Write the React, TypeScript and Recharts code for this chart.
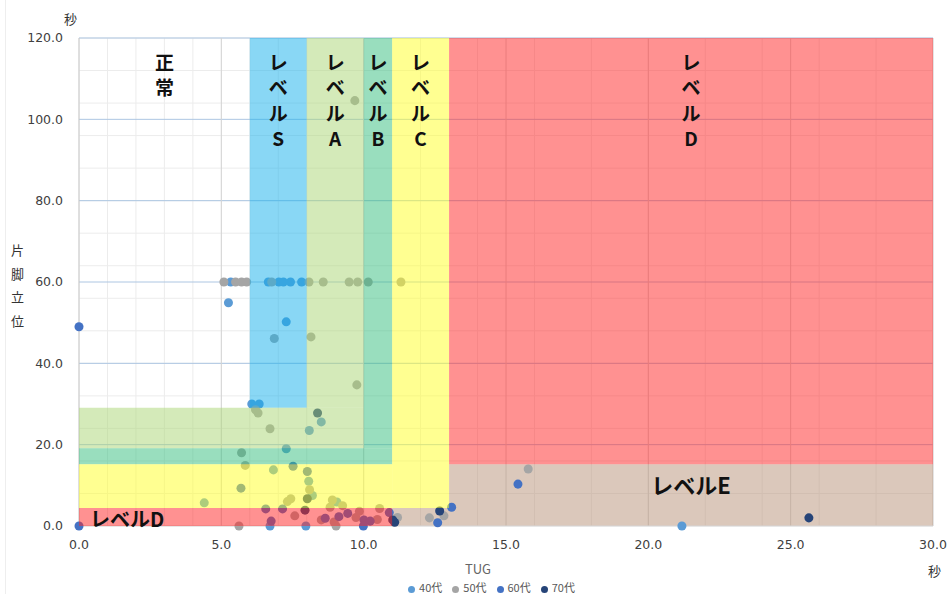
import React from 'react';
import { ScatterChart, Scatter, XAxis, YAxis, ZAxis, CartesianGrid, ReferenceArea, Legend } from 'recharts';

// [TUG (sec), one-leg standing (sec)]
const age40: [number, number][] = [
  [5.33, 60], [6.65, 60], [7.02, 60], [7.18, 60], [7.43, 60], [7.82, 60], [5.25, 54.9], [7.28, 50.2],
  [6.07, 30], [6.33, 30], [7.28, 19.0], [8.09, 23.5], [8.51, 25.6], [6.83, 13.8], [8.07, 11.0],
  [4.4, 5.7], [8.2, 7.5], [9.06, 5.9], [6.71, 0], [7.97, 0], [21.18, 0],
];
const age50: [number, number][] = [
  [5.09, 60], [5.5, 60], [5.71, 60], [5.89, 60], [6.77, 60], [8.08, 60], [8.58, 60], [9.49, 60],
  [9.79, 60], [10.16, 60], [11.31, 60], [9.69, 104.6], [6.86, 46.1], [8.15, 46.5], [9.76, 34.7],
  [6.2, 28.6], [6.29, 27.8], [6.71, 23.9], [5.71, 18.0], [5.84, 14.9], [7.44, 6.7], [7.32, 6.0],
  [8.9, 6.4], [9.26, 5.0], [8.82, 4.6], [8.1, 8.9], [7.58, 2.5], [5.62, 0], [8.51, 1.5], [8.96, 1.0],
  [9.03, 0], [9.73, 2.1], [9.85, 3.6], [10.48, 1.6], [10.56, 4.3], [11.19, 2.1], [12.31, 2.0],
  [12.82, 2.5], [15.78, 14.0],
];
const age60: [number, number][] = [
  [0, 49], [0, 0], [7.52, 14.7], [8.02, 13.4], [5.69, 9.3], [6.56, 4.2], [7.15, 4.2], [6.75, 1.2],
  [8.65, 1.9], [9.13, 2.3], [9.44, 3.1], [10.01, 1.5], [10.23, 1.2], [10.9, 3.3], [12.6, 0.8],
  [13.09, 4.6], [15.42, 10.3], [9.99, 0],
];
const age70: [number, number][] = [
  [7.94, 3.9], [8.02, 6.7], [11.02, 1.5], [11.09, 0.9], [12.67, 3.7], [25.64, 2.0], [8.38, 27.8],
];

const xTicks = [0, 5, 10, 15, 20, 25, 30];
const yTicks = [0, 20, 40, 60, 80, 100, 120];
const xMinor = Array.from({ length: 31 }, (_, i) => i);
const yMinor = Array.from({ length: 31 }, (_, i) => i * 4);

// level boundaries
const tugS = 6, tugA = 8, tugB = 10, tugC = 11, tugD = 13;
const legS = 29.1, legA = 19.1, legB = 15.2, legD = 4.4;

const toPts = (arr: [number, number][]) => arr.map(([x, y]) => ({ x, y }));

const FONT = '"Noto Sans CJK JP", "Noto Sans", sans-serif';

// one character per line, stacked from the top of the zone
const StackLabel = (props: any) => {
  const { viewBox, chars } = props;
  if (!viewBox) return null;
  const cx = viewBox.x + viewBox.width / 2;
  return (
    <g>
      {chars.map((c: string, i: number) => (
        <text key={i} x={cx} y={viewBox.y + 23 + i * 25.5} textAnchor="middle" dominantBaseline="central"
          fontSize={19} fontWeight="bold" fill="#111" fontFamily={FONT}>{c}</text>
      ))}
    </g>
  );
};

const SideLabel = (props: any) => {
  const { viewBox, text, dx = 0, dy = 0, size = 20, center = false } = props;
  if (!viewBox) return null;
  const x = center ? viewBox.x + viewBox.width / 2 : viewBox.x + dx;
  return (
    <text x={x} y={viewBox.y + viewBox.height / 2 + dy} textAnchor={center ? 'middle' : 'start'}
      dominantBaseline="central" fontSize={size} fontWeight="bold" fill="#111" fontFamily={FONT}>
      {text}
    </text>
  );
};

const OV = 650;

export default function App() {
  return (
    <div style={{ position: 'absolute', left: 0, top: 0, width: 949, height: 594, background: '#fff', overflow: 'hidden' }}>
      <div style={{ position: 'absolute', left: 5, top: 0, width: 1, height: 594, background: '#eeeeee' }} />
      <ScatterChart width={949} height={594} margin={{ top: 38, right: 16, bottom: 0, left: 0 }}>
        <CartesianGrid horizontalValues={yMinor} verticalValues={xMinor} stroke="#ececec" />
        <CartesianGrid horizontalValues={[20, 40, 60, 80, 100, 120]} vertical={false} stroke="#adc6e2" />
        <CartesianGrid verticalValues={[5, 10, 15, 20, 25, 30]} horizontal={false} stroke="#d4d4d4" />
        <XAxis type="number" dataKey="x" domain={[0, 30]} ticks={xTicks} height={68} tickLine={false}
          axisLine={{ stroke: '#d9d9d9' }} tickMargin={8} tickFormatter={(v: number) => v.toFixed(1)}
          tick={{ fontSize: 12.5, fill: '#404040', fontFamily: '"DejaVu Sans"' }}
          label={{ value: 'TUG', position: 'insideBottom', offset: 20, dx: -28, fill: '#666', fontSize: 13, fontFamily: FONT }} />
        <YAxis type="number" dataKey="y" domain={[0, 120]} ticks={yTicks} width={79} tickLine={false}
          axisLine={{ stroke: '#c8c8c8' }} tickMargin={10} tickFormatter={(v: number) => v.toFixed(1)}
          tick={{ fontSize: 12.5, fill: '#404040', fontFamily: '"DejaVu Sans"' }} />
        <ZAxis range={[46, 46]} />

        {/* level E sits beneath the points */}
        <ReferenceArea x1={tugD} x2={30} y1={0} y2={legB} fill="#b79177" fillOpacity={0.5} stroke="none"
          label={<SideLabel text="レベルE" center dy={-11} size={22} />} />
        <ReferenceArea x1={tugC} x2={tugD} y1={0} y2={legD} fill="#b79177" fillOpacity={0.5} stroke="none" />

        <Scatter name="40代" data={toPts(age40)} fill="#5b9bd5" isAnimationActive={false} />
        <Scatter name="50代" data={toPts(age50)} fill="#a5a5a5" isAnimationActive={false} />
        <Scatter name="60代" data={toPts(age60)} fill="#4472c4" isAnimationActive={false} />
        <Scatter name="70代" data={toPts(age70)} fill="#264478" isAnimationActive={false} />

        <ReferenceArea x1={0} x2={tugS} y1={legS} y2={120} fill="none" stroke="none" zIndex={OV}
          label={<StackLabel chars={['正', '常']} />} />
        <ReferenceArea x1={tugS} x2={tugA} y1={legS} y2={120} fill="#13afeb" fillOpacity={0.5} stroke="none" zIndex={OV}
          label={<StackLabel chars={['レ', 'ベ', 'ル', 'S']} />} />
        <ReferenceArea x1={tugA} x2={tugB} y1={legS} y2={120} fill="#a9d573" fillOpacity={0.5} stroke="none" zIndex={OV}
          label={<StackLabel chars={['レ', 'ベ', 'ル', 'A']} />} />
        <ReferenceArea x1={0} x2={tugB} y1={legA} y2={legS} fill="#a9d573" fillOpacity={0.5} stroke="none" zIndex={OV} />
        <ReferenceArea x1={tugB} x2={tugC} y1={legA} y2={120} fill="#33bd7d" fillOpacity={0.5} stroke="none" zIndex={OV}
          label={<StackLabel chars={['レ', 'ベ', 'ル', 'B']} />} />
        <ReferenceArea x1={0} x2={tugC} y1={legB} y2={legA} fill="#33bd7d" fillOpacity={0.5} stroke="none" zIndex={OV} />
        <ReferenceArea x1={tugC} x2={tugD} y1={legD} y2={120} fill="#ffff23" fillOpacity={0.5} stroke="none" zIndex={OV}
          label={<StackLabel chars={['レ', 'ベ', 'ル', 'C']} />} />
        <ReferenceArea x1={0} x2={tugC} y1={legD} y2={legB} fill="#ffff23" fillOpacity={0.5} stroke="none" zIndex={OV} />
        <ReferenceArea x1={tugD} x2={30} y1={legB} y2={120} fill="#ff2323" fillOpacity={0.5} stroke="none" zIndex={OV}
          label={<StackLabel chars={['レ', 'ベ', 'ル', 'D']} />} />
        <ReferenceArea x1={0} x2={tugC} y1={0} y2={legD} fill="#ff2323" fillOpacity={0.5} stroke="none" zIndex={OV}
          label={<SideLabel text="レベルD" dx={11} dy={1} />} />

        <Legend layout="horizontal" verticalAlign="middle" align="center" iconType="circle" iconSize={7}
          wrapperStyle={{ top: 580, left: 30, width: 933, fontSize: 11, fontFamily: FONT, color: '#595959', lineHeight: '14px' }}
          formatter={(v: string) => <span style={{ color: '#595959' }}>{v}</span>} />
      </ScatterChart>
      <div style={{ position: 'absolute', left: 64, top: 9, fontSize: 13, fontFamily: FONT, color: '#333' }}>秒</div>
      <div style={{ position: 'absolute', left: 928, top: 561, fontSize: 13, fontFamily: FONT, color: '#333' }}>秒</div>
      <div style={{ position: 'absolute', left: 11, top: 238, width: 14, fontSize: 13, lineHeight: '23.5px', fontFamily: FONT, color: '#333' }}>
        片<br />脚<br />立<br />位
      </div>
    </div>
  );
}
